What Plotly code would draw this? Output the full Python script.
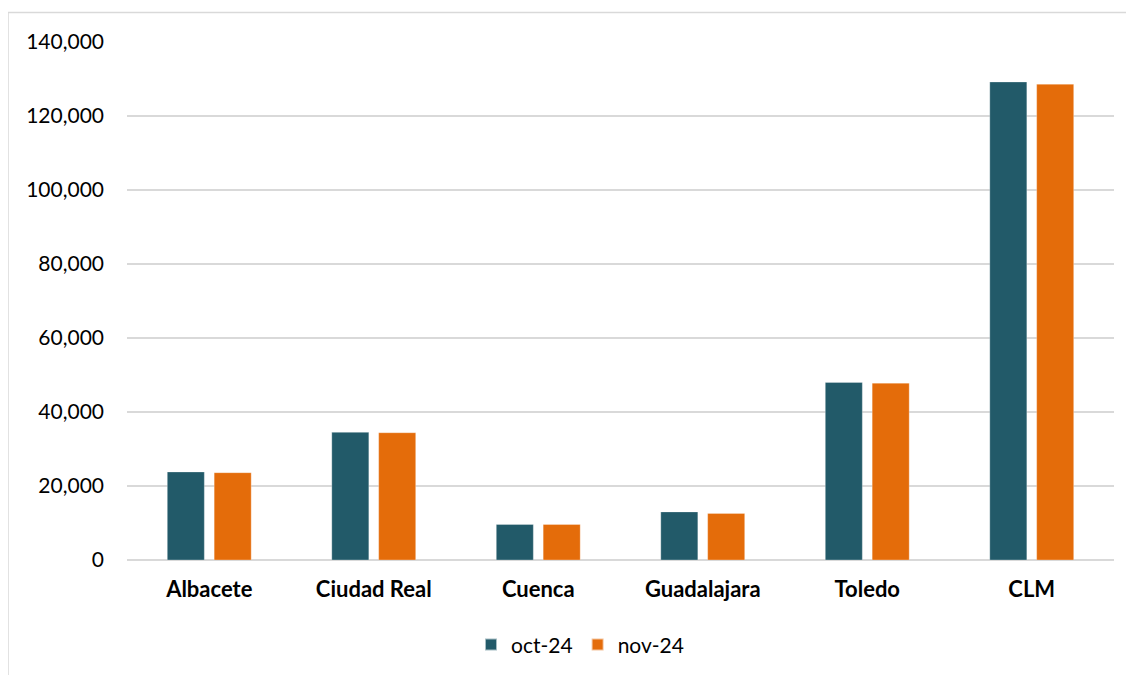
import plotly.graph_objects as go

categories = ["Albacete", "Ciudad Real", "Cuenca", "Guadalajara", "Toledo", "CLM"]
oct_24 = [23800, 34500, 9600, 13000, 48000, 129200]
nov_24 = [23600, 34400, 9600, 12600, 47800, 128600]
y_ticks = [0, 20000, 40000, 60000, 80000, 100000, 120000, 140000]
y_tick_labels = ["0", "20,000", "40,000", "60,000", "80,000", "100,000", "120,000", "140,000"]

TEAL = "#225A69"
ORANGE = "#E46C0A"

fig = go.Figure()
fig.add_trace(go.Bar(name="oct-24", x=categories, y=oct_24, marker=dict(color=TEAL, line=dict(color="rgba(255,255,255,0.6)", width=0.5))))
fig.add_trace(go.Bar(name="nov-24", x=categories, y=nov_24, marker=dict(color=ORANGE, line=dict(color="rgba(255,255,255,0.6)", width=0.5))))

# page body has an 8px margin; compensate so the figure lands where the reference is
OFF = 8
W, H = 1134, 675
L = 127 - OFF
T = 41.5 - OFF
R = W - (1114 - OFF)
B = H - (560 - OFF)
pw = W - L - R
ph = H - T - B

def px_x(px):
    return (px - OFF - L) / pw

def px_y(py):
    return (H - B - (py - OFF)) / ph

fig.update_layout(
    width=W, height=H,
    margin=dict(l=L, r=R, t=T, b=B, autoexpand=False),
    paper_bgcolor="white", plot_bgcolor="white",
    barmode="group", bargap=0.43, bargroupgap=0.21,
    font=dict(family="Lato, 'Open Sans', sans-serif", color="#000000"),
    showlegend=True,
    legend=dict(orientation="h", x=px_x(580), xanchor="center", y=px_y(645), yanchor="middle",
                font=dict(size=21, family="Lato"), itemsizing="constant", itemwidth=30,
                traceorder="normal"),
    xaxis=dict(showgrid=False, showline=False, ticks="", ticklabelstandoff=14,
               tickfont=dict(size=22, family="Lato", weight="bold")),
    yaxis=dict(range=[0, 140000], tickvals=y_ticks, ticktext=y_tick_labels,
               showgrid=True, gridcolor="#D9D9D9", gridwidth=1.5,
               zeroline=True, zerolinecolor="#D9D9D9", zerolinewidth=1.5,
               showline=False, ticks="", ticklabelstandoff=22,
               tickfont=dict(size=21, family="Lato")),
    shapes=[
        dict(type="line", xref="paper", yref="paper", x0=px_x(8), x1=px_x(1150), y0=px_y(12), y1=px_y(12),
             line=dict(color="#D9D9D9", width=1.5)),
        dict(type="line", xref="paper", yref="paper", x0=px_x(8), x1=px_x(8), y0=px_y(12), y1=px_y(690),
             line=dict(color="#D9D9D9", width=1.5)),
    ],
)

fig.write_html("out.html")
